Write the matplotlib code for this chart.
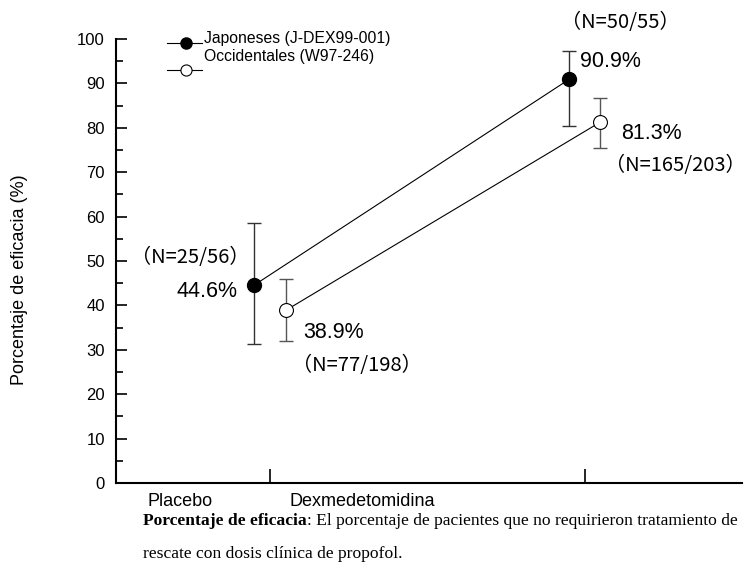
import matplotlib
matplotlib.use("Agg")
import matplotlib.pyplot as plt
from matplotlib.lines import Line2D
from matplotlib.ticker import MultipleLocator

# ---- data ----
categories = ["Placebo", "Dexmedetomidina"]
jap_name = "Japoneses (J-DEX99-001)"
occ_name = "Occidentales (W97-246)"
jap_values = [44.6, 90.9]
jap_low = [31.2, 80.3]
jap_high = [58.5, 97.2]
occ_values = [38.9, 81.3]
occ_low = [32.0, 75.5]
occ_high = [46.0, 86.6]
jap_n = ["（N=25/56）", "（N=50/55）"]
occ_n = ["（N=77/198）", "（N=165/203）"]
yticks = [0, 10, 20, 30, 40, 50, 60, 70, 80, 90, 100]
ylabel = "Porcentaje de eficacia (%)"
caption_bold = "Porcentaje de eficacia"
caption_rest1 = ": El porcentaje de pacientes que no requirieron tratamiento de"
caption_line2 = "rescate con dosis clínica de propofol."

W, H = 747, 563
fig = plt.figure(figsize=(W / 100, H / 100), dpi=100)
ax = fig.add_axes([116 / W, 1 - 483 / H, (742 - 116) / W, (483 - 39) / H])

xpos = [1, 2]
off = 0.05
xj = [x - off for x in xpos]
xo = [x + off for x in xpos]

jerr = [[v - l for v, l in zip(jap_values, jap_low)], [h - v for v, h in zip(jap_values, jap_high)]]
oerr = [[v - l for v, l in zip(occ_values, occ_low)], [h - v for v, h in zip(occ_values, occ_high)]]

ax.errorbar(xj, jap_values, yerr=jerr, fmt="none", ecolor="#333333", elinewidth=1.0, capsize=5, capthick=1.0, zorder=2)
ax.errorbar(xo, occ_values, yerr=oerr, fmt="none", ecolor="#555555", elinewidth=1.0, capsize=5, capthick=1.0, zorder=2)
ax.plot(xj, jap_values, color="black", lw=0.8, marker="o", markersize=10,
        markerfacecolor="black", markeredgecolor="black", zorder=3)
ax.plot(xo, occ_values, color="black", lw=0.8, marker="o", markersize=10,
        markerfacecolor="white", markeredgecolor="black", markeredgewidth=0.8, zorder=3)

ax.set_xlim(0.51, 2.5)
ax.set_ylim(0, 100)
ax.set_yticks(yticks)
ax.yaxis.set_minor_locator(MultipleLocator(5))
ax.set_xticks(xpos)
ax.set_xticklabels(["", ""])
ax.tick_params(axis="y", direction="in", length=8, width=1.2, labelsize=12, pad=8)
ax.tick_params(axis="y", which="minor", direction="in", length=5, width=1.2)
ax.tick_params(axis="x", direction="in", length=10, width=1.2)
for s in ["top", "right"]:
    ax.spines[s].set_visible(False)
for s in ["left", "bottom"]:
    ax.spines[s].set_linewidth(1.5)
for lab in ax.get_yticklabels():
    lab.set_fontfamily("Liberation Sans")

fig.text(20 / W, 1 - 280 / H, ylabel, fontsize=13, family="Liberation Sans",
         rotation=90, ha="center", va="center")

# category labels below axis
def fx(px):
    return px / W
def fy(py):
    return 1 - py / H

ax.text(0.714, fy(501), categories[0], transform=ax.get_xaxis_transform(), ha="center", va="center",
        fontsize=13, family="Liberation Sans")
ax.text(1.292, fy(501), categories[1], transform=ax.get_xaxis_transform(), ha="center", va="center",
        fontsize=13, family="Liberation Sans")
# convert figure y to axes y for those labels
for t in ax.texts[-2:]:
    x, yfig = t.get_position()
    yax = (yfig - (1 - 483 / H)) / ((483 - 39) / H)
    t.set_position((x, yax))

cjk = ["Noto Sans CJK JP", "DejaVu Sans"]
fs_pct = 15.5
fs_n = 14.5
kw = dict(textcoords="offset pixels", fontsize=fs_pct, family="Liberation Sans", va="center")
kn = dict(textcoords="offset pixels", fontsize=fs_n, family=cjk, va="center")
# placebo japanese
ax.annotate(f"{jap_values[0]}%", (xj[0], jap_values[0]), xytext=(-17, -7), ha="right", **kw)
ax.annotate(jap_n[0], (xj[0], jap_values[0]), xytext=(-64, 27), ha="center", **kn)
# placebo occidental
ax.annotate(f"{occ_values[0]}%", (xo[0], occ_values[0]), xytext=(17, -22), ha="left", **kw)
ax.annotate(occ_n[0], (xo[0], occ_values[0]), xytext=(71, -55), ha="center", **kn)
# dex japanese
ax.annotate(f"{jap_values[1]}%", (xj[1], jap_values[1]), xytext=(11, 18), ha="left", **kw)
ax.annotate(jap_n[1], (xj[1], jap_values[1]), xytext=(51, 57), ha="center", **kn)
# dex occidental
ax.annotate(f"{occ_values[1]}%", (xo[1], occ_values[1]), xytext=(21, -11), ha="left", **kw)
ax.annotate(occ_n[1], (xo[1], occ_values[1]), xytext=(75, -43), ha="center", **kn)

# legend (manual)
fig.add_artist(Line2D([fx(167), fx(202)], [fy(43), fy(43)], color="black", lw=0.8))
fig.add_artist(Line2D([fx(186)], [fy(43)], marker="o", markersize=8, color="black",
                      markerfacecolor="black", markeredgecolor="black", lw=0))
fig.add_artist(Line2D([fx(167), fx(202)], [fy(70), fy(70)], color="black", lw=0.8))
fig.add_artist(Line2D([fx(186)], [fy(70)], marker="o", markersize=8, color="black",
                      markerfacecolor="white", markeredgecolor="black", markeredgewidth=0.8, lw=0))
fig.text(fx(204), fy(38), jap_name, fontsize=11.3, family="Liberation Sans", va="center", ha="left")
fig.text(fx(204), fy(56), occ_name, fontsize=11.3, family="Liberation Sans", va="center", ha="left")

# caption
t1 = fig.text(fx(143), fy(521), caption_bold, fontsize=12.6, family="Liberation Serif",
              weight="bold", va="center", ha="left")
fig.canvas.draw()
bb = t1.get_window_extent()
fig.text(bb.x1 / W, fy(521), caption_rest1, fontsize=12.6, family="Liberation Serif",
         va="center", ha="left")
fig.text(fx(143), fy(554), caption_line2, fontsize=12.6, family="Liberation Serif",
         va="center", ha="left")

fig.savefig("out.png", dpi=100)
